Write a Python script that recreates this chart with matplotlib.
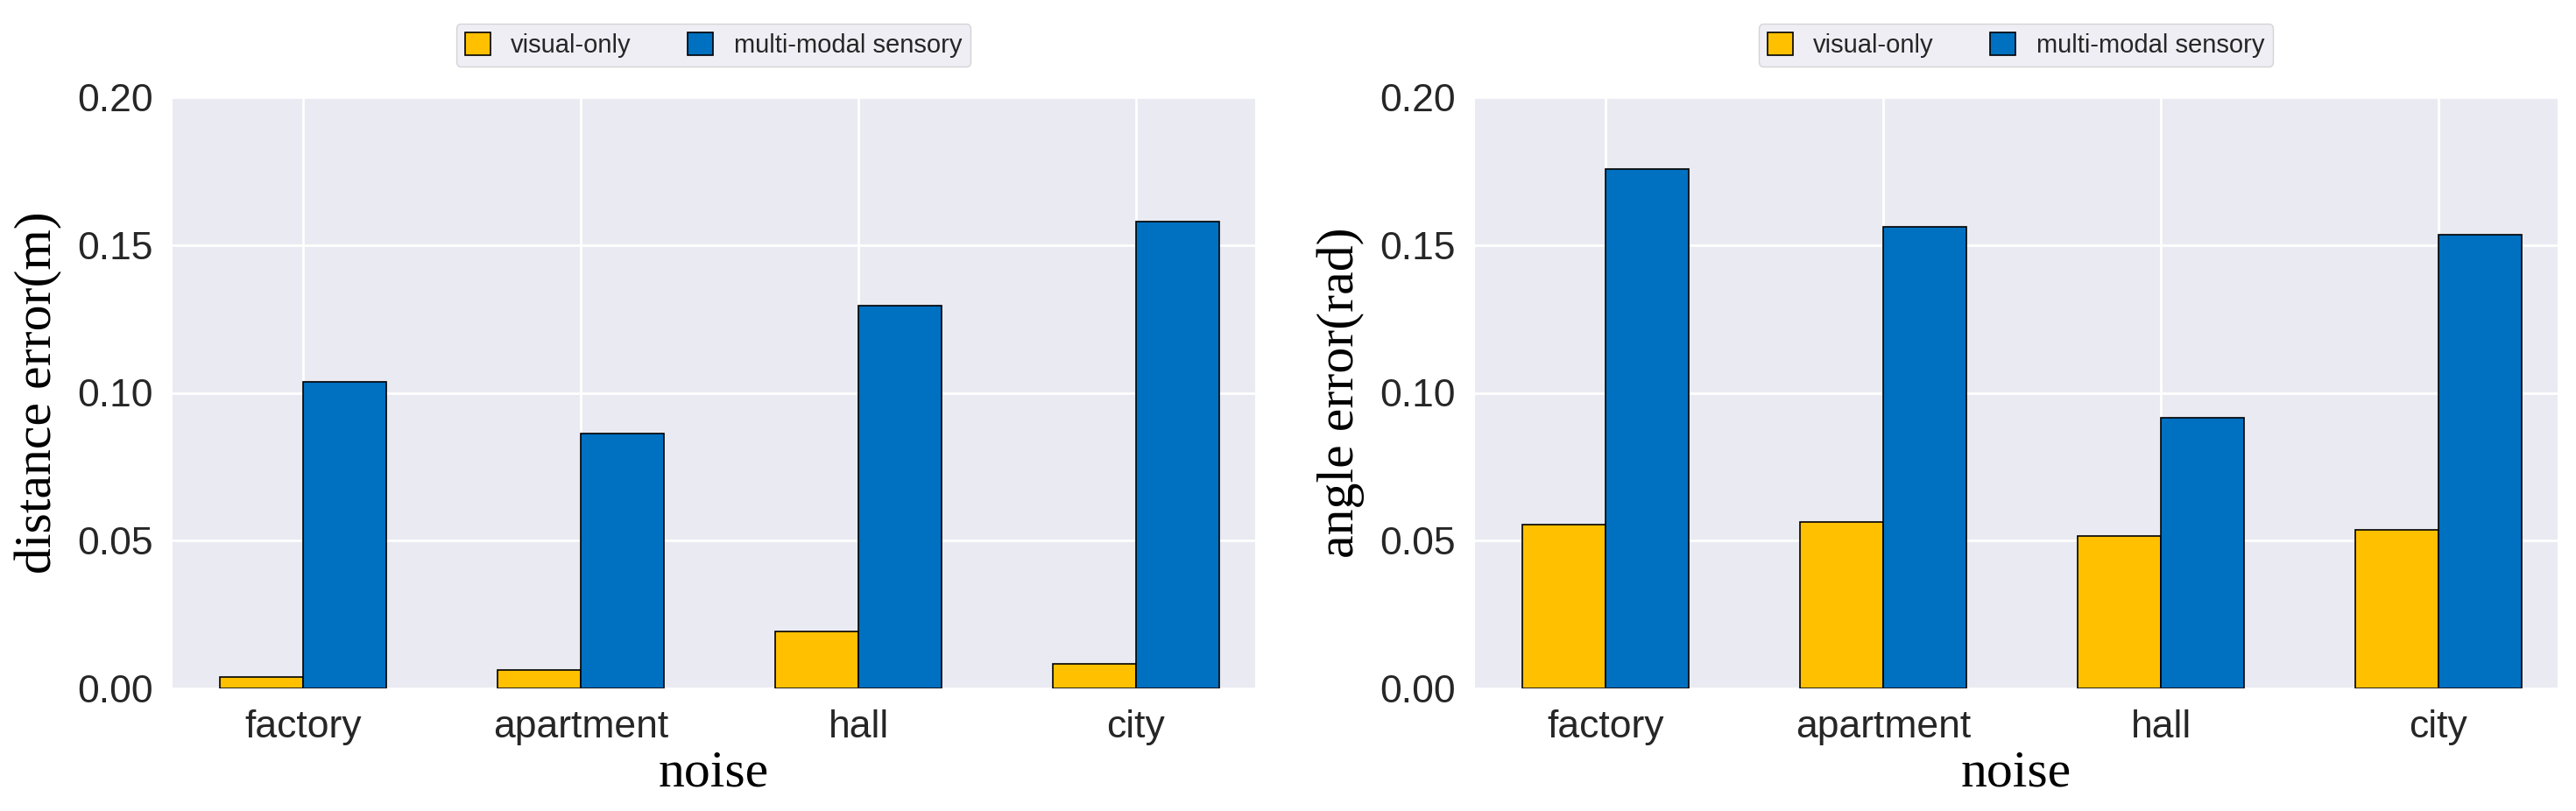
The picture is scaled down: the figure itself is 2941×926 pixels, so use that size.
import numpy as np
import matplotlib
matplotlib.use("Agg")
import matplotlib.pyplot as plt
import seaborn as sns

categories = ['factory', 'apartment', 'hall', 'city']
series_names = ['visual-only', 'multi-modal sensory']
dist_visual = [0.0040, 0.0062, 0.0194, 0.0082]
dist_multi = [0.1037, 0.0863, 0.1294, 0.1580]
angle_visual = [0.0555, 0.0562, 0.0517, 0.0535]
angle_multi = [0.1756, 0.1561, 0.0915, 0.1535]
yticks = [0.00, 0.05, 0.10, 0.15, 0.20]

sns.set_style('darkgrid')
plt.rcParams['font.family'] = ['Liberation Sans', 'DejaVu Sans']

colors = ['#FFC000', '#0070C0']
W, H = 2941, 926
fig = plt.figure(figsize=(W / 100, H / 100), dpi=100)

panels = [
    ([196, 111, 1433, 786], dist_visual, dist_multi, 'distance error(m)'),
    ([1683, 111, 2920, 786], angle_visual, angle_multi, 'angle error(rad)'),
]

x = np.arange(len(categories))
width = 0.3
serif = {'family': 'Liberation Serif', 'size': 43}

for (x0, y0, x1, y1), vis, multi, ylab in panels:
    ax = fig.add_axes([x0 / W, 1 - y1 / H, (x1 - x0) / W, (y1 - y0) / H])
    ax.bar(x - width / 2, vis, width, color=colors[0], edgecolor='black',
           linewidth=1.2, label=series_names[0], zorder=3)
    ax.bar(x + width / 2, multi, width, color=colors[1], edgecolor='black',
           linewidth=1.2, label=series_names[1], zorder=3)
    ax.set_xticks(x)
    ax.set_xticklabels(categories, fontsize=32)
    ax.set_yticks(yticks)
    ax.set_yticklabels(['%.2f' % t for t in yticks], fontsize=32)
    ax.set_ylim(0, 0.2)
    ax.set_xlim(-0.475, 3.43)
    ax.tick_params(axis='x', pad=14)
    ax.tick_params(axis='y', pad=12)
    ax.grid(True, color='white', linewidth=2)
    ax.set_axisbelow(True)
    ax.set_xlabel('noise', fontdict=serif, color='black', labelpad=4)
    ax.set_ylabel(ylab, fontdict=serif, color='black', labelpad=12)
    ax.legend(loc='lower center', bbox_to_anchor=(0.5, 1.03), ncol=2,
              fontsize=21, handlelength=1.0, handleheight=1.0,
              columnspacing=2.2, frameon=True, borderpad=0.35)

fig.savefig('out.png', dpi=100)
